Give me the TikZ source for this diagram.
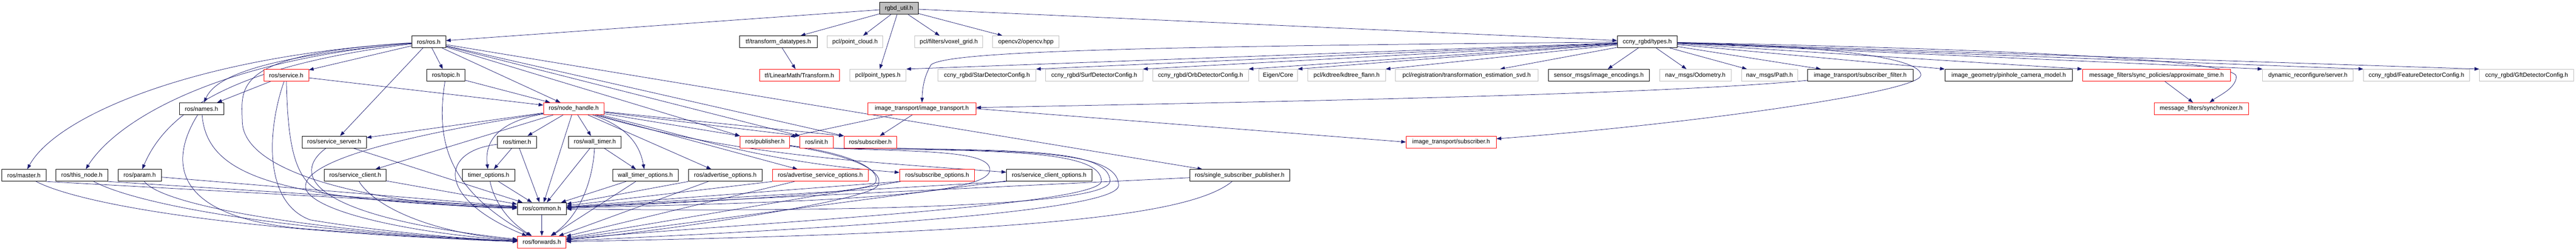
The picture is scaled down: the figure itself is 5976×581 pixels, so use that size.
\documentclass[tikz,border=0pt]{standalone}
\usepackage{fontspec}
\setmainfont{Liberation Sans}
\usetikzlibrary{arrows.meta}

\definecolor{edgeblue}{HTML}{191970}
\definecolor{extgray}{HTML}{BFBFBF}
\definecolor{truncred}{HTML}{FF0000}
\newcommand{\dotfont}{\fontsize{14}{16}\selectfont}
\pgfdeclarelayer{edges}
\pgfsetlayers{edges,main}

\tikzset{
  file/.style={draw=black,line width=1pt,fill=white,minimum height=27.7pt,inner sep=0pt,font=\dotfont},
  trunc/.style={file,draw=truncred},
  ext/.style={file,draw=extgray},
  root/.style={file,fill=extgray},
  inc/.style={draw=edgeblue,line width=0.9pt,-{Triangle[length=11pt,width=8pt]}}
}

\begin{document}
\begin{tikzpicture}[x=1pt,y=-1pt]
\useasboundingbox (0,0) rectangle (5976,581);

% row 0
\node[root,minimum width=89pt] (rgbd) at (2085.5,19.5) {rgbd\_util.h};

% row 1
\node[file,minimum width=79pt] (ros) at (994.5,97) {ros/ros.h};
\node[file,minimum width=181pt] (tfdt) at (1805.5,97) {tf/transform\_datatypes.h};
\node[ext,minimum width=129pt] (pclcloud) at (1983.5,97) {pcl/point\_cloud.h};
\node[ext,minimum width=158pt] (voxel) at (2201,97) {pcl/filters/voxel\_grid.h};
\node[ext,minimum width=154pt] (opencv) at (2380,97) {opencv2/opencv.hpp};
\node[file,minimum width=139pt] (types) at (3821.5,97) {ccny\_rgbd/types.h};

% row 2
\node[trunc,minimum width=104pt] (service) at (664,174.5) {ros/service.h};
\node[file,minimum width=89pt] (topic) at (1034.5,174.5) {ros/topic.h};
\node[trunc,minimum width=185pt] (lmtrans) at (1854.5,174.5) {tf/LinearMath/Transform.h};
\node[ext,minimum width=131pt] (pcltypes) at (2036.5,174.5) {pcl/point\_types.h};
\node[ext,minimum width=227pt] (star) at (2289.5,174.5) {ccny\_rgbd/StarDetectorConfig.h};
\node[ext,minimum width=225pt] (surf) at (2538.5,174.5) {ccny\_rgbd/SurfDetectorConfig.h};
\node[ext,minimum width=222pt] (orb) at (2785,174.5) {ccny\_rgbd/OrbDetectorConfig.h};
\node[ext,minimum width=90pt] (eigen) at (2965,174.5) {Eigen/Core};
\node[ext,minimum width=180pt] (kdtree) at (3124,174.5) {pcl/kdtree/kdtree\_flann.h};
\node[ext,minimum width=331pt] (svd) at (3402.5,174.5) {pcl/registration/transformation\_estimation\_svd.h};
\node[file,minimum width=234pt] (encodings) at (3709,174.5) {sensor\_msgs/image\_encodings.h};
\node[ext,minimum width=166pt] (odom) at (3933,174.5) {nav\_msgs/Odometry.h};
\node[ext,minimum width=130pt] (path) at (4105,174.5) {nav\_msgs/Path.h};
\node[file,minimum width=245pt] (subfilter) at (4315.5,174.5) {image\_transport/subscriber\_filter.h};
\node[file,minimum width=296pt] (pinhole) at (4660,174.5) {image\_geometry/pinhole\_camera\_model.h};
\node[trunc,minimum width=344pt] (approx) at (5003,174.5) {message\_filters/sync\_policies/approximate\_time.h};
\node[ext,minimum width=210pt] (dynrec) at (5354,174.5) {dynamic\_reconfigure/server.h};
\node[ext,minimum width=246pt] (featcfg) at (5606,174.5) {ccny\_rgbd/FeatureDetectorConfig.h};
\node[ext,minimum width=219pt] (gftcfg) at (5861.5,174.5) {ccny\_rgbd/GftDetectorConfig.h};

% row 3
\node[file,minimum width=103pt] (names) at (467.5,252) {ros/names.h};
\node[trunc,minimum width=140pt] (nh) at (1331,252) {ros/node\_handle.h};
\node[trunc,minimum width=251pt] (imgtrans) at (2138.5,252) {image\_transport/image\_transport.h};
\node[trunc,minimum width=219pt] (sync) at (5106.5,252) {message\_filters/synchronizer.h};

% row 4
\node[file,minimum width=149pt] (srvserver) at (775.5,329.5) {ros/service\_server.h};
\node[file,minimum width=91pt] (timer) at (1199.5,329.5) {ros/timer.h};
\node[file,minimum width=122pt] (walltimer) at (1380,329.5) {ros/wall\_timer.h};
\node[trunc,minimum width=115pt] (publisher) at (1774.5,329.5) {ros/publisher.h};
\node[trunc,minimum width=77pt] (init) at (1894.5,329.5) {ros/init.h};
\node[trunc,minimum width=122pt] (subscriber) at (2019,329.5) {ros/subscriber.h};
\node[trunc,minimum width=209pt] (itsub) at (3366.5,329.5) {image\_transport/subscriber.h};

% row 5
\node[file,minimum width=103pt] (master) at (55.5,406.6) {ros/master.h};
\node[file,minimum width=120pt] (thisnode) at (190,406.6) {ros/this\_node.h};
\node[file,minimum width=100pt] (param) at (324,406.6) {ros/param.h};
\node[file,minimum width=144pt] (srvclient) at (824,406.6) {ros/service\_client.h};
\node[file,minimum width=123pt] (timeropts) at (1133.5,406.6) {timer\_options.h};
\node[file,minimum width=152pt] (walltimeropts) at (1497,406.6) {wall\_timer\_options.h};
\node[file,minimum width=171pt] (advopts) at (1682.5,406.6) {ros/advertise\_options.h};
\node[trunc,minimum width=222pt] (advsrvopts) at (1903,406.6) {ros/advertise\_service\_options.h};
\node[trunc,minimum width=174pt] (subopts) at (2174,406.6) {ros/subscribe\_options.h};
\node[file,minimum width=198pt] (srvclientopts) at (2434,406.6) {ros/service\_client\_options.h};
\node[file,minimum width=232pt] (ssp) at (2876,406.6) {ros/single\_subscriber\_publisher.h};

% rows 6 and 7
\node[file,minimum width=114pt] (common) at (1257,483.7) {ros/common.h};
\node[trunc,minimum width=112pt] (forwards) at (1257,561.3) {ros/forwards.h};

\begin{pgfonlayer}{edges}
% rgbd_util.h
\draw[inc] (rgbd) -- (ros);
\draw[inc] (rgbd) -- (tfdt);
\draw[inc] (rgbd) -- (pclcloud);
\draw[inc] (rgbd) -- (pcltypes);
\draw[inc] (rgbd) -- (voxel);
\draw[inc] (rgbd) -- (opencv);
\draw[inc] (rgbd) -- (types);
\draw[inc] (tfdt) -- (lmtrans);

% ccny_rgbd/types.h
\draw[inc] (types) -- (pcltypes.north east);
\draw[inc] (types) -- (star.north east);
\draw[inc] (types) -- (surf.north east);
\draw[inc] (types) -- (orb.north east);
\draw[inc] (types) -- (eigen.north east);
\draw[inc] (types) -- (kdtree.north east);
\draw[inc] (types) -- (svd);
\draw[inc] (types) -- (encodings);
\draw[inc] (types) -- (odom);
\draw[inc] (types) -- (path);
\draw[inc] (types) -- (subfilter);
\draw[inc] (types) -- (pinhole.north west);
\draw[inc] (types) -- (approx.north west);
\draw[inc] (types) -- (dynrec.north west);
\draw[inc] (types) -- (featcfg.north west);
\draw[inc] (types) -- (gftcfg.north west);
\draw[inc] (types) .. controls (2600,108) and (2200,120) .. (2160,150) .. controls (2145,175) and (2140,200) .. (imgtrans);
\draw[inc] (types) .. controls (4300,108) and (4460,140) .. (4456,175) .. controls (4450,215) and (3900,290) .. (itsub);
\draw[inc] (types) .. controls (4700,115) and (5190,140) .. (5188,178) .. controls (5186,205) and (5150,220) .. (sync);
\draw[inc] (approx) -- (sync);
\draw[inc] (subfilter) .. controls (3850,220) and (2900,237) .. (imgtrans);

% image_transport
\draw[inc] (imgtrans) -- (publisher);
\draw[inc] (imgtrans) -- (subscriber);
\draw[inc] (imgtrans.east) -- (itsub.west);

% ros/ros.h
\draw[inc] (ros) -- (service);
\draw[inc] (ros) -- (topic);
\draw[inc] (ros) -- (srvserver);
\draw[inc] (ros) -- (nh);
\draw[inc] (ros) -- (publisher.north west);
\draw[inc] (ros) -- (init.north west);
\draw[inc] (ros) -- (subscriber.north west);
\draw[inc] (ros) -- (ssp);
\draw[inc] (ros) .. controls (620,130) and (500,175) .. (names);
\draw[inc] (ros) .. controls (450,130) and (130,270) .. (master);
\draw[inc] (ros) .. controls (500,140) and (270,280) .. (thisnode);
\draw[inc] (ros) .. controls (560,150) and (390,250) .. (param);
\draw[inc] (ros) .. controls (540,125) and (560,200) .. (562,280) .. controls (562,420) and (950,480) .. (common);

% ros/service.h, ros/topic.h, ros/names.h
\draw[inc] (service) -- (names);
\draw[inc] (service) -- (nh);
\draw[inc] (service) .. controls (668,330) and (680,430) .. (760,450) .. controls (900,470) and (1100,478) .. (common);
\draw[inc] (service) .. controls (620,300) and (610,470) .. (720,510) .. controls (900,540) and (1100,555) .. (forwards);
\draw[inc] (topic) -- (nh);
\draw[inc] (topic) .. controls (1010,330) and (1040,440) .. (forwards);
\draw[inc] (names) .. controls (480,400) and (620,465) .. (common);
\draw[inc] (names) .. controls (400,360) and (380,500) .. (700,530) .. controls (900,545) and (1100,558) .. (forwards);
\draw[inc] (master.south east) -- (common);
\draw[inc] (master) .. controls (200,480) and (600,540) .. (forwards);
\draw[inc] (thisnode.south east) -- (common);
\draw[inc] (thisnode) .. controls (330,480) and (700,540) .. (forwards);
\draw[inc] (param) -- (common);
\draw[inc] (param) .. controls (380,480) and (760,540) .. (forwards);

% ros/node_handle.h
\draw[inc] (nh) -- (srvserver);
\draw[inc] (nh) -- (srvclient);
\draw[inc] (nh) -- (timer);
\draw[inc] (nh) -- (walltimer);
\draw[inc] (nh) -- (common);
\draw[inc] (nh) -- (advopts);
\draw[inc] (nh) -- (advsrvopts);
\draw[inc] (nh) -- (publisher.north west);
\draw[inc] (nh) -- (init.north west);
\draw[inc] (nh) -- (subscriber.north west);
\draw[inc] (nh) .. controls (1140,285) and (1125,340) .. (timeropts);
\draw[inc] (nh) .. controls (1460,295) and (1485,340) .. (walltimeropts);
\draw[inc] (nh) .. controls (1620,320) and (1760,375) .. (subopts);
\draw[inc] (nh) .. controls (1700,360) and (2000,375) .. (srvclientopts);
\draw[inc] (nh) .. controls (900,320) and (690,380) .. (710,440) .. controls (740,500) and (1000,545) .. (forwards);

% row 4 to common and forwards
\draw[inc] (srvserver) -- (common);
\draw[inc] (srvserver) .. controls (680,400) and (700,500) .. (forwards);
\draw[inc] (timer) -- (timeropts);
\draw[inc] (timer) -- (common);
\draw[inc] (timer) .. controls (1020,350) and (1010,460) .. (forwards);
\draw[inc] (walltimer) -- (walltimeropts);
\draw[inc] (walltimer) -- (common);
\draw[inc] (walltimer) .. controls (1375,420) and (1345,500) .. (forwards);
\draw[inc] (publisher) .. controls (2000,360) and (2045,400) .. (2030,425) .. controls (2010,450) and (1600,470) .. (common);
\draw[inc] (publisher) .. controls (2005,365) and (2055,405) .. (2035,432) .. controls (2000,470) and (1500,540) .. (forwards);
\draw[inc] (init.south east) .. controls (2150,352) and (2300,350) .. (2296,395) .. controls (2292,460) and (1800,470) .. (common);
\draw[inc] (init.south east) .. controls (2300,350) and (2555,345) .. (2555,420) .. controls (2555,480) and (1600,525) .. (forwards);
\draw[inc] (subscriber.south east) .. controls (2350,350) and (2575,345) .. (2575,420) .. controls (2575,490) and (1700,490) .. (common);
\draw[inc] (subscriber.south east) .. controls (2380,352) and (2595,350) .. (2595,430) .. controls (2595,500) and (1700,540) .. (forwards);

% row 5 to common and forwards
\draw[inc] (srvclient) -- (common);
\draw[inc] (srvclient) .. controls (870,480) and (1000,540) .. (forwards);
\draw[inc] (timeropts) -- (common);
\draw[inc] (timeropts) .. controls (1150,480) and (1190,520) .. (forwards);
\draw[inc] (walltimeropts) -- (common);
\draw[inc] (walltimeropts) -- (forwards);
\draw[inc] (advopts.south west) -- (common);
\draw[inc] (advopts) -- (forwards);
\draw[inc] (advsrvopts.south west) -- (common);
\draw[inc] (advsrvopts) -- (forwards);
\draw[inc] (subopts.south west) -- (common);
\draw[inc] (subopts) -- (forwards);
\draw[inc] (srvclientopts.south west) -- (common);
\draw[inc] (srvclientopts) -- (forwards);
\draw[inc] (ssp) -- (common);
\draw[inc] (ssp) .. controls (2760,500) and (2400,540) .. (forwards);
\draw[inc] (common) -- (forwards);
\end{pgfonlayer}
\end{tikzpicture}
\end{document}
